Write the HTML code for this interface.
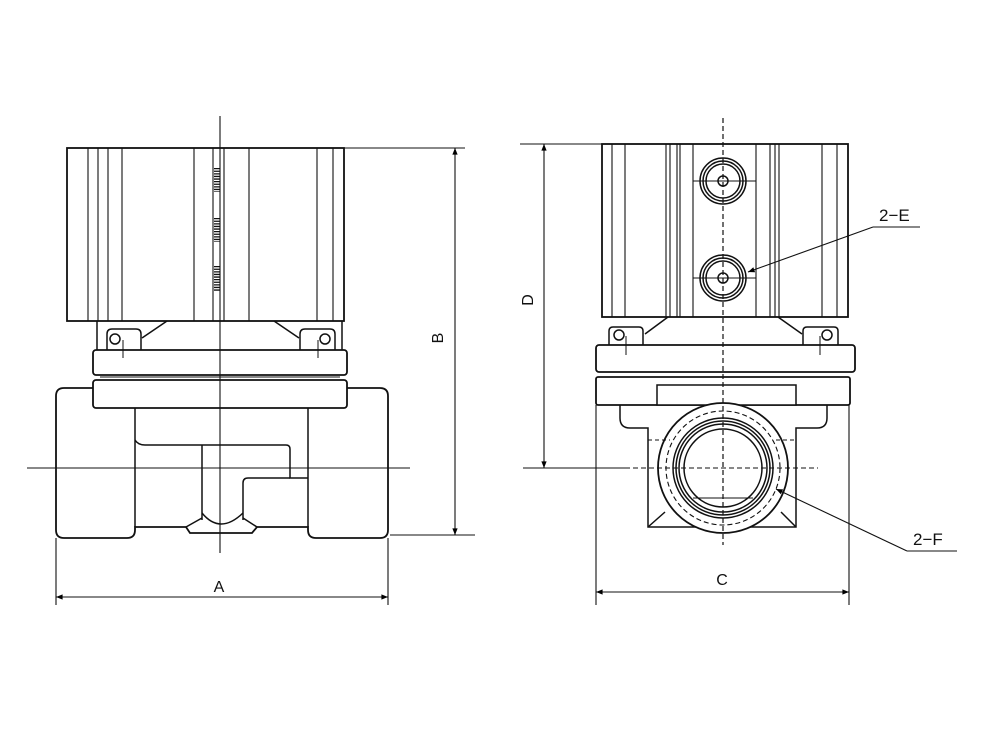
<!DOCTYPE html>
<html><head><meta charset="utf-8"><style>html,body{margin:0;padding:0;background:#fff}svg{display:block}</style></head>
<body>
<svg width="1000" height="750" viewBox="0 0 1000 750" xmlns="http://www.w3.org/2000/svg" font-family="Liberation Sans, sans-serif">
<defs>
<marker id="ar" viewBox="0 0 10 10" refX="10" refY="5" markerWidth="8" markerHeight="6" orient="auto-start-reverse"><path d="M0,1 L10,5 L0,9 z" fill="#000"/></marker>
</defs>
<g fill="none" stroke="#111" stroke-width="1.5">
<!-- LEFT VIEW -->
<rect x="67" y="148" width="277" height="173" stroke-width="1.8"/>
<g stroke-width="1.1">
<line x1="88" y1="148" x2="88" y2="321"/><line x1="98" y1="148" x2="98" y2="321"/>
<line x1="108" y1="148" x2="108" y2="321"/><line x1="122" y1="148" x2="122" y2="321"/>
<line x1="194" y1="148" x2="194" y2="321"/><line x1="213" y1="148" x2="213" y2="321"/>
<line x1="224" y1="148" x2="224" y2="321"/><line x1="249" y1="148" x2="249" y2="321"/>
<line x1="317" y1="148" x2="317" y2="321"/><line x1="333" y1="148" x2="333" y2="321"/>
</g>
<g stroke-width="6" stroke-dasharray="1.3,1.3"><line x1="217" y1="168" x2="217" y2="192"/><line x1="217" y1="218" x2="217" y2="242"/><line x1="217" y1="266" x2="217" y2="292"/></g>
<line x1="97" y1="321" x2="97" y2="350"/><line x1="342" y1="321" x2="342" y2="350"/>
<line x1="167" y1="321" x2="142" y2="338"/><line x1="274" y1="321" x2="299" y2="338"/>
<path d="M107,350 V334 Q107,329 112,329 H136 Q141,329 141,334 V350"/>
<path d="M300,350 V334 Q300,329 305,329 H330 Q335,329 335,334 V350"/>
<circle cx="115" cy="339" r="5"/><circle cx="325" cy="339" r="5"/>
<line x1="123" y1="340" x2="123" y2="358" stroke-width="1"/><line x1="318" y1="340" x2="318" y2="358" stroke-width="1"/>
<rect x="93" y="350" width="254" height="25" rx="3" stroke-width="1.8"/>
<rect x="93" y="380" width="254" height="28" rx="3" stroke-width="1.8"/>
<line x1="100" y1="377" x2="340" y2="377" stroke-width="1"/>
<path d="M93,388 H64 Q56,388 56,396 V530 Q56,538 64,538 H127 Q135,538 135,530 V527 H186 L190,533 H252 L257,527 H308 V530 Q308,538 316,538 H380 Q388,538 388,530 V396 Q388,388 380,388 H347" stroke-width="1.8"/>
<line x1="135" y1="408" x2="135" y2="527"/><line x1="308" y1="408" x2="308" y2="527"/>
<path d="M135,440 Q138,445 145,445 H286 Q290,445 290,449 V478 H308"/>
<path d="M202,445 V520"/>
<path d="M290,478 H248 Q243,478 243,483 V520"/>
<path d="M202,513 Q220,535 243,513"/>
<path d="M186,527 L202,518 M257,527 L243,518"/>
<line x1="220" y1="116" x2="220" y2="553" stroke-width="1.1"/>
<line x1="27" y1="468" x2="410" y2="468" stroke-width="1.1"/>
<g stroke-width="1.1">
<line x1="56" y1="538" x2="56" y2="605"/><line x1="388" y1="538" x2="388" y2="605"/>
<line x1="56" y1="597" x2="388" y2="597" marker-start="url(#ar)" marker-end="url(#ar)"/>
<line x1="344" y1="148" x2="465" y2="148"/><line x1="390" y1="535" x2="475" y2="535"/>
<line x1="455" y1="148" x2="455" y2="535" marker-start="url(#ar)" marker-end="url(#ar)"/>
</g>

<!-- RIGHT VIEW -->
<rect x="602" y="144" width="246" height="173" stroke-width="1.8"/>
<g stroke-width="1.1">
<line x1="612" y1="144" x2="612" y2="317"/><line x1="625" y1="144" x2="625" y2="317"/>
<line x1="666" y1="144" x2="666" y2="317"/><line x1="670" y1="144" x2="670" y2="317"/>
<line x1="677" y1="144" x2="677" y2="317"/><line x1="680" y1="144" x2="680" y2="317"/>
<line x1="693" y1="144" x2="693" y2="317"/><line x1="756" y1="144" x2="756" y2="317"/>
<line x1="770" y1="144" x2="770" y2="317"/><line x1="775" y1="144" x2="775" y2="317"/>
<line x1="779" y1="144" x2="779" y2="317"/><line x1="822" y1="144" x2="822" y2="317"/>
<line x1="837" y1="144" x2="837" y2="317"/>
</g>
<circle cx="723" cy="181" r="23"/><circle cx="723" cy="181" r="20"/><circle cx="723" cy="181" r="17"/><circle cx="723" cy="181" r="5"/>
<circle cx="723" cy="278" r="23"/><circle cx="723" cy="278" r="20"/><circle cx="723" cy="278" r="17"/><circle cx="723" cy="278" r="5"/>
<line x1="693" y1="181" x2="756" y2="181" stroke-width="1"/><line x1="693" y1="278" x2="756" y2="278" stroke-width="1"/>
<line x1="668" y1="317" x2="645" y2="334"/><line x1="778" y1="317" x2="802" y2="334"/>
<path d="M609,345 V331 Q609,327 613,327 H639 Q643,327 643,331 V345"/>
<path d="M803,345 V331 Q803,327 807,327 H834 Q838,327 838,331 V345"/>
<circle cx="619" cy="335" r="5"/><circle cx="827" cy="335" r="5"/>
<line x1="626" y1="336" x2="626" y2="355" stroke-width="1"/><line x1="820" y1="336" x2="820" y2="355" stroke-width="1"/>
<rect x="596" y="345" width="259" height="27" rx="3" stroke-width="1.8"/>
<rect x="596" y="377" width="254" height="28" rx="2" stroke-width="1.8"/>
<rect x="657" y="385" width="139" height="20" fill="#fff"/>
<path d="M620,405 V418 Q620,428 630,428 H648 V527 H796 V428 H817 Q827,428 827,418 V405"/>
<line x1="648" y1="527" x2="665" y2="512"/><line x1="796" y1="527" x2="781" y2="512"/>
<circle cx="723" cy="468" r="65" fill="#fff" stroke-width="1.8"/>
<circle cx="723" cy="468" r="57" stroke-dasharray="5,3" stroke-width="1.1"/>
<circle cx="723" cy="468" r="50"/><circle cx="723" cy="468" r="47"/><circle cx="723" cy="468" r="44"/><circle cx="723" cy="468" r="39"/>
<line x1="693" y1="498" x2="753" y2="498" stroke-width="1"/>
<line x1="648" y1="440" x2="670" y2="440" stroke-dasharray="4,3" stroke-width="1"/>
<line x1="776" y1="440" x2="796" y2="440" stroke-dasharray="4,3" stroke-width="1"/>
<line x1="596" y1="405" x2="596" y2="605" stroke-width="1.1"/><line x1="849" y1="405" x2="849" y2="605" stroke-width="1.1"/>
<line x1="723" y1="118" x2="723" y2="545" stroke-dasharray="5,3" stroke-width="1.2"/>
<line x1="625" y1="468" x2="818" y2="468" stroke-dasharray="5,3" stroke-width="1.1"/>
<g stroke-width="1.1">
<line x1="520" y1="144" x2="602" y2="144"/><line x1="523" y1="468" x2="625" y2="468"/>
<line x1="544" y1="144" x2="544" y2="468" marker-start="url(#ar)" marker-end="url(#ar)"/>
<line x1="596" y1="592" x2="849" y2="592" marker-start="url(#ar)" marker-end="url(#ar)"/>
<line x1="873" y1="227" x2="920" y2="227"/><line x1="873" y1="227" x2="748" y2="272" marker-end="url(#ar)"/>
<line x1="907" y1="551" x2="957" y2="551"/><line x1="907" y1="551" x2="776" y2="489" marker-end="url(#ar)"/>
</g>
</g>
<g fill="#111" font-size="16">
<text x="219" y="592" text-anchor="middle">A</text>
<text x="722" y="585" text-anchor="middle">C</text>
<text transform="translate(443,338) rotate(-90)" text-anchor="middle">B</text>
<text transform="translate(533,300) rotate(-90)" text-anchor="middle">D</text>
<text x="879" y="221" font-size="17">2−E</text>
<text x="913" y="545" font-size="17">2−F</text>
</g>
</svg>
</body></html>
